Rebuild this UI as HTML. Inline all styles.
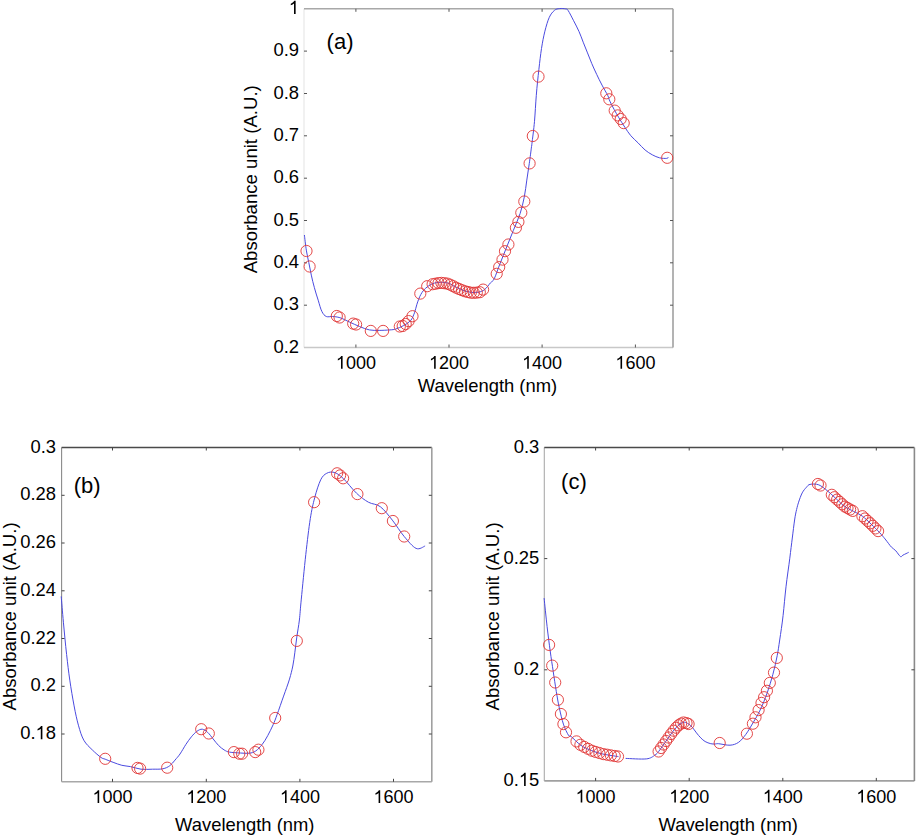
<!DOCTYPE html>
<html><head><meta charset="utf-8"><style>
html,body{margin:0;padding:0;background:#fff;}
svg{display:block;}
text{font-family:"Liberation Sans", sans-serif;font-size:18.4px;fill:#000;stroke:none;}
.yl{font-size:18.6px;}
.tl{font-size:18px;}
.ytl{font-size:18.4px;}
.pl{font-size:22px;}
</style></head><body>
<svg width="917" height="838" viewBox="0 0 917 838">
<rect width="917" height="838" fill="#fff"/>
<line x1="304" y1="8.8" x2="304" y2="347.5" stroke="#e6e6e6" stroke-width="1.1"/>
<line x1="304" y1="347.5" x2="673" y2="347.5" stroke="#c8c8c8" stroke-width="1.6"/>
<line x1="304" y1="8.8" x2="673" y2="8.8" stroke="#a8a8a8" stroke-width="1.6"/>
<line x1="673" y1="8.8" x2="673" y2="347.5" stroke="#a0a0a0" stroke-width="1.6"/>
<line x1="355.9" y1="347.5" x2="355.9" y2="344.5" stroke="#555" stroke-width="1"/>
<line x1="355.9" y1="8.8" x2="355.9" y2="11.8" stroke="#555" stroke-width="1"/>
<path d="M0.373,0 L0.373,-0.716 L0.298,-0.716 C0.272,-0.655 0.215,-0.598 0.109,-0.552 L0.109,-0.468 C0.185,-0.496 0.245,-0.530 0.285,-0.566 L0.285,0 Z" transform="translate(335.88,368.80) scale(18)" fill="#000"/><text class="tl" x="345.89" y="368.80">000</text>
<line x1="449.0" y1="347.5" x2="449.0" y2="344.5" stroke="#555" stroke-width="1"/>
<line x1="449.0" y1="8.8" x2="449.0" y2="11.8" stroke="#555" stroke-width="1"/>
<path d="M0.373,0 L0.373,-0.716 L0.298,-0.716 C0.272,-0.655 0.215,-0.598 0.109,-0.552 L0.109,-0.468 C0.185,-0.496 0.245,-0.530 0.285,-0.566 L0.285,0 Z" transform="translate(428.98,368.80) scale(18)" fill="#000"/><text class="tl" x="438.99" y="368.80">200</text>
<line x1="542.1" y1="347.5" x2="542.1" y2="344.5" stroke="#555" stroke-width="1"/>
<line x1="542.1" y1="8.8" x2="542.1" y2="11.8" stroke="#555" stroke-width="1"/>
<path d="M0.373,0 L0.373,-0.716 L0.298,-0.716 C0.272,-0.655 0.215,-0.598 0.109,-0.552 L0.109,-0.468 C0.185,-0.496 0.245,-0.530 0.285,-0.566 L0.285,0 Z" transform="translate(522.08,368.80) scale(18)" fill="#000"/><text class="tl" x="532.09" y="368.80">400</text>
<line x1="635.4" y1="347.5" x2="635.4" y2="344.5" stroke="#555" stroke-width="1"/>
<line x1="635.4" y1="8.8" x2="635.4" y2="11.8" stroke="#555" stroke-width="1"/>
<path d="M0.373,0 L0.373,-0.716 L0.298,-0.716 C0.272,-0.655 0.215,-0.598 0.109,-0.552 L0.109,-0.468 C0.185,-0.496 0.245,-0.530 0.285,-0.566 L0.285,0 Z" transform="translate(615.38,368.80) scale(18)" fill="#000"/><text class="tl" x="625.39" y="368.80">600</text>
<text class="ytl" x="299.00" y="352.60" text-anchor="end">0.2</text>
<line x1="304" y1="305.2" x2="307" y2="305.2" stroke="#555" stroke-width="1"/>
<line x1="673" y1="305.2" x2="670" y2="305.2" stroke="#555" stroke-width="1"/>
<text class="ytl" x="299.00" y="310.26" text-anchor="end">0.3</text>
<line x1="304" y1="262.8" x2="307" y2="262.8" stroke="#555" stroke-width="1"/>
<line x1="673" y1="262.8" x2="670" y2="262.8" stroke="#555" stroke-width="1"/>
<text class="ytl" x="299.00" y="267.93" text-anchor="end">0.4</text>
<line x1="304" y1="220.5" x2="307" y2="220.5" stroke="#555" stroke-width="1"/>
<line x1="673" y1="220.5" x2="670" y2="220.5" stroke="#555" stroke-width="1"/>
<text class="ytl" x="299.00" y="225.59" text-anchor="end">0.5</text>
<line x1="304" y1="178.2" x2="307" y2="178.2" stroke="#555" stroke-width="1"/>
<line x1="673" y1="178.2" x2="670" y2="178.2" stroke="#555" stroke-width="1"/>
<text class="ytl" x="299.00" y="183.25" text-anchor="end">0.6</text>
<line x1="304" y1="135.8" x2="307" y2="135.8" stroke="#555" stroke-width="1"/>
<line x1="673" y1="135.8" x2="670" y2="135.8" stroke="#555" stroke-width="1"/>
<text class="ytl" x="299.00" y="140.91" text-anchor="end">0.7</text>
<line x1="304" y1="93.5" x2="307" y2="93.5" stroke="#555" stroke-width="1"/>
<line x1="673" y1="93.5" x2="670" y2="93.5" stroke="#555" stroke-width="1"/>
<text class="ytl" x="299.00" y="98.58" text-anchor="end">0.8</text>
<line x1="304" y1="51.1" x2="307" y2="51.1" stroke="#555" stroke-width="1"/>
<line x1="673" y1="51.1" x2="670" y2="51.1" stroke="#555" stroke-width="1"/>
<text class="ytl" x="299.00" y="56.24" text-anchor="end">0.9</text>
<path d="M0.373,0 L0.373,-0.716 L0.298,-0.716 C0.272,-0.655 0.215,-0.598 0.109,-0.552 L0.109,-0.468 C0.185,-0.496 0.245,-0.530 0.285,-0.566 L0.285,0 Z" transform="translate(288.77,13.90) scale(18.4)" fill="#000"/>
<text x="417.8" y="392.3">Wavelength (nm)</text>
<text class="yl" transform="translate(256.7,179.3) rotate(-90)" text-anchor="middle">Absorbance unit (A.U.)</text>
<text class="pl" x="326.6" y="48.5">(a)</text>
<path d="M304.4,235.0 C304.7,237.5 305.6,245.5 306.3,250.1 C307.0,254.7 308.0,258.4 308.8,262.6 C309.6,266.8 310.4,270.9 311.3,275.1 C312.2,279.3 313.2,283.5 314.4,287.7 C315.5,291.9 316.9,296.2 318.2,300.2 C319.4,304.2 320.5,308.8 321.9,311.5 C323.2,314.2 324.5,315.7 326.3,316.5 C328.1,317.3 330.3,316.3 332.6,316.5 C334.9,316.7 337.0,316.8 339.9,317.7 C342.8,318.6 346.4,320.6 349.7,322.1 C353.0,323.6 356.2,325.2 359.5,326.5 C362.8,327.8 366.0,329.2 369.3,329.9 C372.6,330.5 375.8,330.4 379.2,330.4 C382.6,330.4 387.2,330.1 390.0,329.9 C392.8,329.7 393.5,329.7 395.8,329.0 C398.1,328.3 401.2,326.9 403.7,325.5 C406.2,324.1 408.8,322.7 410.6,320.6 C412.4,318.5 413.4,315.5 414.5,312.8 C415.6,310.1 415.8,307.4 416.9,304.3 C417.9,301.2 419.3,297.2 420.8,294.5 C422.3,291.8 423.7,290.0 425.7,288.2 C427.7,286.4 430.2,284.7 432.6,283.7 C435.1,282.7 437.8,282.4 440.4,282.3 C443.0,282.2 445.7,282.4 448.3,283.2 C450.9,284.0 453.5,286.0 456.1,287.2 C458.7,288.4 461.4,289.7 464.0,290.6 C466.6,291.5 469.4,292.1 471.8,292.4 C474.2,292.6 476.6,292.6 478.7,292.1 C480.8,291.6 482.6,291.2 484.6,289.6 C486.6,288.1 488.9,284.6 490.5,282.8 C492.1,281.0 492.6,282.0 494.2,278.8 C495.8,275.6 497.9,269.0 500.0,263.7 C502.1,258.4 504.5,252.6 506.7,247.0 C508.9,241.4 511.2,235.9 513.4,230.3 C515.6,224.7 518.3,219.2 520.1,213.6 C521.9,208.0 523.2,202.5 524.3,196.9 C525.4,191.3 526.0,185.7 526.8,180.1 C527.6,174.5 528.5,169.0 529.3,163.4 C530.1,157.8 531.1,150.0 531.5,146.7 C531.9,143.4 531.4,148.0 531.9,143.8 C532.4,139.6 533.8,129.4 534.5,121.3 C535.2,113.2 535.6,104.0 536.3,95.3 C537.0,86.6 538.0,77.1 538.9,69.3 C539.8,61.5 540.5,54.9 541.5,48.5 C542.5,42.1 543.6,36.4 544.9,31.2 C546.2,26.0 547.7,20.8 549.3,17.3 C550.9,13.8 552.7,11.9 554.4,10.4 C556.1,8.9 557.7,8.8 559.6,8.6 C561.5,8.3 564.3,8.6 565.7,8.9 C567.1,9.2 566.9,8.6 568.2,10.6 C569.5,12.6 571.8,17.2 573.6,20.7 C575.4,24.2 577.4,27.9 579.0,31.5 C580.6,35.1 581.8,38.6 583.2,42.2 C584.6,45.8 586.1,49.3 587.5,52.9 C588.9,56.5 590.3,60.0 591.8,63.6 C593.3,67.2 595.0,70.8 596.7,74.4 C598.4,78.0 600.1,81.5 602.0,85.1 C603.9,88.7 606.7,93.3 607.9,95.8 C609.1,98.3 608.3,97.6 609.3,99.9 C610.3,102.2 612.5,106.4 614.1,109.4 C615.7,112.4 617.1,114.8 618.9,117.8 C620.7,120.8 622.9,124.3 624.9,127.3 C626.9,130.3 628.6,133.1 630.8,135.7 C633.0,138.3 635.6,140.4 638.0,142.8 C640.4,145.2 642.7,148.0 645.1,150.0 C647.5,152.0 649.9,153.5 652.3,154.8 C654.7,156.1 657.1,157.2 659.5,157.8 C661.9,158.4 665.1,158.5 666.6,158.4 C668.1,158.3 668.2,157.2 668.5,157.0" fill="none" stroke="#4a4ae0" stroke-width="1.0"/>
<circle cx="306.5" cy="251" r="5.6" fill="none" stroke="#e03434" stroke-width="0.9"/>
<circle cx="309.6" cy="266.5" r="5.6" fill="none" stroke="#e03434" stroke-width="0.9"/>
<circle cx="353.2" cy="323.6" r="5.6" fill="none" stroke="#e03434" stroke-width="0.9"/>
<circle cx="356.1" cy="324.5" r="5.6" fill="none" stroke="#e03434" stroke-width="0.9"/>
<circle cx="370.8" cy="330.9" r="5.6" fill="none" stroke="#e03434" stroke-width="0.9"/>
<circle cx="383.1" cy="330.9" r="5.6" fill="none" stroke="#e03434" stroke-width="0.9"/>
<circle cx="399.8" cy="326.5" r="5.6" fill="none" stroke="#e03434" stroke-width="0.9"/>
<circle cx="402.7" cy="326" r="5.6" fill="none" stroke="#e03434" stroke-width="0.9"/>
<circle cx="405.7" cy="324" r="5.6" fill="none" stroke="#e03434" stroke-width="0.9"/>
<circle cx="408.6" cy="321.1" r="5.6" fill="none" stroke="#e03434" stroke-width="0.9"/>
<circle cx="412.5" cy="316.2" r="5.6" fill="none" stroke="#e03434" stroke-width="0.9"/>
<circle cx="336.8" cy="316" r="5.6" fill="none" stroke="#e03434" stroke-width="0.9"/>
<circle cx="339.6" cy="317.5" r="5.6" fill="none" stroke="#e03434" stroke-width="0.9"/>
<circle cx="420.3" cy="293.6" r="5.6" fill="none" stroke="#e03434" stroke-width="0.9"/>
<circle cx="427.2" cy="286.2" r="5.6" fill="none" stroke="#e03434" stroke-width="0.9"/>
<circle cx="432.6" cy="284.2" r="5.6" fill="none" stroke="#e03434" stroke-width="0.9"/>
<circle cx="435.5" cy="283.7" r="5.6" fill="none" stroke="#e03434" stroke-width="0.9"/>
<circle cx="438.5" cy="283.1" r="5.6" fill="none" stroke="#e03434" stroke-width="0.9"/>
<circle cx="441.4" cy="282.9" r="5.6" fill="none" stroke="#e03434" stroke-width="0.9"/>
<circle cx="444.3" cy="283.2" r="5.6" fill="none" stroke="#e03434" stroke-width="0.9"/>
<circle cx="447.3" cy="283.6" r="5.6" fill="none" stroke="#e03434" stroke-width="0.9"/>
<circle cx="450.2" cy="284.7" r="5.6" fill="none" stroke="#e03434" stroke-width="0.9"/>
<circle cx="453.2" cy="286.2" r="5.6" fill="none" stroke="#e03434" stroke-width="0.9"/>
<circle cx="456.1" cy="287.7" r="5.6" fill="none" stroke="#e03434" stroke-width="0.9"/>
<circle cx="459.1" cy="289.0" r="5.6" fill="none" stroke="#e03434" stroke-width="0.9"/>
<circle cx="462.0" cy="290.2" r="5.6" fill="none" stroke="#e03434" stroke-width="0.9"/>
<circle cx="465.0" cy="291.3" r="5.6" fill="none" stroke="#e03434" stroke-width="0.9"/>
<circle cx="467.9" cy="292.0" r="5.6" fill="none" stroke="#e03434" stroke-width="0.9"/>
<circle cx="470.8" cy="292.7" r="5.6" fill="none" stroke="#e03434" stroke-width="0.9"/>
<circle cx="473.8" cy="292.8" r="5.6" fill="none" stroke="#e03434" stroke-width="0.9"/>
<circle cx="483.1" cy="289.6" r="5.6" fill="none" stroke="#e03434" stroke-width="0.9"/>
<circle cx="496.7" cy="273.8" r="5.6" fill="none" stroke="#e03434" stroke-width="0.9"/>
<circle cx="499.2" cy="267.1" r="5.6" fill="none" stroke="#e03434" stroke-width="0.9"/>
<circle cx="502.5" cy="259.6" r="5.6" fill="none" stroke="#e03434" stroke-width="0.9"/>
<circle cx="505" cy="251.2" r="5.6" fill="none" stroke="#e03434" stroke-width="0.9"/>
<circle cx="508.4" cy="244.5" r="5.6" fill="none" stroke="#e03434" stroke-width="0.9"/>
<circle cx="515.9" cy="227.8" r="5.6" fill="none" stroke="#e03434" stroke-width="0.9"/>
<circle cx="518.4" cy="221.9" r="5.6" fill="none" stroke="#e03434" stroke-width="0.9"/>
<circle cx="521.3" cy="212.7" r="5.6" fill="none" stroke="#e03434" stroke-width="0.9"/>
<circle cx="524.3" cy="201.5" r="5.6" fill="none" stroke="#e03434" stroke-width="0.9"/>
<circle cx="529.6" cy="163.4" r="5.6" fill="none" stroke="#e03434" stroke-width="0.9"/>
<circle cx="538.5" cy="76.6" r="5.6" fill="none" stroke="#e03434" stroke-width="0.9"/>
<circle cx="532.8" cy="136" r="5.6" fill="none" stroke="#e03434" stroke-width="0.9"/>
<circle cx="606.3" cy="93.3" r="5.6" fill="none" stroke="#e03434" stroke-width="0.9"/>
<circle cx="609.3" cy="99.3" r="5.6" fill="none" stroke="#e03434" stroke-width="0.9"/>
<circle cx="614.7" cy="110.6" r="5.6" fill="none" stroke="#e03434" stroke-width="0.9"/>
<circle cx="617.7" cy="115.4" r="5.6" fill="none" stroke="#e03434" stroke-width="0.9"/>
<circle cx="620.7" cy="119" r="5.6" fill="none" stroke="#e03434" stroke-width="0.9"/>
<circle cx="623.7" cy="123.1" r="5.6" fill="none" stroke="#e03434" stroke-width="0.9"/>
<circle cx="667.2" cy="157.8" r="5.6" fill="none" stroke="#e03434" stroke-width="0.9"/>
<circle cx="476.8" cy="292.6" r="5.6" fill="none" stroke="#e03434" stroke-width="0.9"/>
<circle cx="479.8" cy="292.2" r="5.6" fill="none" stroke="#e03434" stroke-width="0.9"/>
<line x1="61.6" y1="447.5" x2="61.6" y2="781.8" stroke="#8a8a8a" stroke-width="1.1"/>
<line x1="61.6" y1="781.8" x2="431.8" y2="781.8" stroke="#a8a8a8" stroke-width="1.6"/>
<line x1="61.6" y1="447.5" x2="431.8" y2="447.5" stroke="#4a4a4a" stroke-width="1.6"/>
<line x1="431.8" y1="447.5" x2="431.8" y2="781.8" stroke="#a0a0a0" stroke-width="1.6"/>
<line x1="112.5" y1="781.8" x2="112.5" y2="778.8" stroke="#444" stroke-width="1"/>
<line x1="112.5" y1="447.5" x2="112.5" y2="450.5" stroke="#444" stroke-width="1"/>
<path d="M0.373,0 L0.373,-0.716 L0.298,-0.716 C0.272,-0.655 0.215,-0.598 0.109,-0.552 L0.109,-0.468 C0.185,-0.496 0.245,-0.530 0.285,-0.566 L0.285,0 Z" transform="translate(92.48,803.10) scale(18)" fill="#000"/><text class="tl" x="102.49" y="803.10">000</text>
<line x1="206.3" y1="781.8" x2="206.3" y2="778.8" stroke="#444" stroke-width="1"/>
<line x1="206.3" y1="447.5" x2="206.3" y2="450.5" stroke="#444" stroke-width="1"/>
<path d="M0.373,0 L0.373,-0.716 L0.298,-0.716 C0.272,-0.655 0.215,-0.598 0.109,-0.552 L0.109,-0.468 C0.185,-0.496 0.245,-0.530 0.285,-0.566 L0.285,0 Z" transform="translate(186.28,803.10) scale(18)" fill="#000"/><text class="tl" x="196.29" y="803.10">200</text>
<line x1="299.9" y1="781.8" x2="299.9" y2="778.8" stroke="#444" stroke-width="1"/>
<line x1="299.9" y1="447.5" x2="299.9" y2="450.5" stroke="#444" stroke-width="1"/>
<path d="M0.373,0 L0.373,-0.716 L0.298,-0.716 C0.272,-0.655 0.215,-0.598 0.109,-0.552 L0.109,-0.468 C0.185,-0.496 0.245,-0.530 0.285,-0.566 L0.285,0 Z" transform="translate(279.88,803.10) scale(18)" fill="#000"/><text class="tl" x="289.89" y="803.10">400</text>
<line x1="393.5" y1="781.8" x2="393.5" y2="778.8" stroke="#444" stroke-width="1"/>
<line x1="393.5" y1="447.5" x2="393.5" y2="450.5" stroke="#444" stroke-width="1"/>
<path d="M0.373,0 L0.373,-0.716 L0.298,-0.716 C0.272,-0.655 0.215,-0.598 0.109,-0.552 L0.109,-0.468 C0.185,-0.496 0.245,-0.530 0.285,-0.566 L0.285,0 Z" transform="translate(373.48,803.10) scale(18)" fill="#000"/><text class="tl" x="383.49" y="803.10">600</text>
<line x1="61.6" y1="734.0" x2="64.6" y2="734.0" stroke="#444" stroke-width="1"/>
<line x1="431.8" y1="734.0" x2="428.8" y2="734.0" stroke="#444" stroke-width="1"/>
<text class="ytl" x="20.18" y="739.14">0.</text><path d="M0.373,0 L0.373,-0.716 L0.298,-0.716 C0.272,-0.655 0.215,-0.598 0.109,-0.552 L0.109,-0.468 C0.185,-0.496 0.245,-0.530 0.285,-0.566 L0.285,0 Z" transform="translate(35.53,739.14) scale(18.4)" fill="#000"/><text class="ytl" x="45.77" y="739.14">8</text>
<line x1="61.6" y1="686.3" x2="64.6" y2="686.3" stroke="#444" stroke-width="1"/>
<line x1="431.8" y1="686.3" x2="428.8" y2="686.3" stroke="#444" stroke-width="1"/>
<text class="ytl" x="56.00" y="691.39" text-anchor="end">0.2</text>
<line x1="61.6" y1="638.5" x2="64.6" y2="638.5" stroke="#444" stroke-width="1"/>
<line x1="431.8" y1="638.5" x2="428.8" y2="638.5" stroke="#444" stroke-width="1"/>
<text class="ytl" x="56.00" y="643.63" text-anchor="end">0.22</text>
<line x1="61.6" y1="590.8" x2="64.6" y2="590.8" stroke="#444" stroke-width="1"/>
<line x1="431.8" y1="590.8" x2="428.8" y2="590.8" stroke="#444" stroke-width="1"/>
<text class="ytl" x="56.00" y="595.87" text-anchor="end">0.24</text>
<line x1="61.6" y1="543.0" x2="64.6" y2="543.0" stroke="#444" stroke-width="1"/>
<line x1="431.8" y1="543.0" x2="428.8" y2="543.0" stroke="#444" stroke-width="1"/>
<text class="ytl" x="56.00" y="548.11" text-anchor="end">0.26</text>
<line x1="61.6" y1="495.3" x2="64.6" y2="495.3" stroke="#444" stroke-width="1"/>
<line x1="431.8" y1="495.3" x2="428.8" y2="495.3" stroke="#444" stroke-width="1"/>
<text class="ytl" x="56.00" y="500.36" text-anchor="end">0.28</text>
<text class="ytl" x="56.00" y="452.60" text-anchor="end">0.3</text>
<text x="175.1" y="830.6">Wavelength (nm)</text>
<text class="yl" transform="translate(16,616.4) rotate(-90)" text-anchor="middle">Absorbance unit (A.U.)</text>
<text class="pl" x="73.7" y="492.5">(b)</text>
<path d="M61.2,596.4 C61.6,600.7 62.5,612.5 63.4,622.2 C64.3,631.9 65.5,644.8 66.6,654.4 C67.7,664.0 68.5,671.5 69.8,680.1 C71.0,688.7 72.7,698.4 74.1,705.9 C75.5,713.4 76.8,719.5 78.4,725.2 C80.0,730.9 81.5,736.1 83.8,740.2 C86.1,744.3 89.4,747.0 92.3,749.9 C95.2,752.8 98.8,755.8 100.9,757.4 C103.1,759.0 103.2,758.4 105.2,759.2 C107.2,760.0 110.3,761.3 113.1,762.3 C115.9,763.3 118.9,764.6 121.8,765.3 C124.7,766.0 127.3,766.0 130.5,766.6 C133.7,767.2 137.3,768.8 141.0,769.2 C144.7,769.6 148.8,769.3 152.4,769.2 C156.0,769.1 159.9,769.4 162.8,768.8 C165.7,768.2 167.8,767.2 169.8,765.7 C171.8,764.2 173.3,762.1 175.0,760.1 C176.7,758.1 178.2,756.6 180.0,754.0 C181.8,751.4 184.0,747.3 185.9,744.4 C187.8,741.5 189.6,739.0 191.4,736.8 C193.2,734.6 195.0,732.7 196.8,731.4 C198.6,730.1 200.5,729.0 202.3,729.2 C204.1,729.4 205.9,730.8 207.7,732.4 C209.5,734.0 211.4,736.8 213.2,739.0 C215.0,741.2 216.8,743.7 218.6,745.5 C220.4,747.3 222.3,748.8 224.1,749.9 C225.9,751.0 226.8,751.6 229.5,752.1 C232.2,752.6 237.1,752.8 240.4,753.0 C243.7,753.2 246.6,753.5 249.2,753.2 C251.8,752.9 253.5,752.5 255.7,751.0 C257.9,749.5 260.2,746.9 262.2,744.4 C264.2,741.9 265.9,739.0 267.7,735.7 C269.5,732.4 271.5,728.3 273.1,724.8 C274.7,721.3 275.4,719.3 277.1,714.5 C278.9,709.7 281.5,702.0 283.6,696.1 C285.7,690.2 288.0,684.1 289.5,679.1 C291.0,674.1 291.9,670.4 292.8,666.0 C293.7,661.6 294.1,657.6 294.8,652.8 C295.5,648.0 296.0,642.6 296.8,637.1 C297.6,631.6 298.6,626.3 299.4,620.0 C300.1,613.7 300.2,610.0 301.3,599.1 C302.4,588.2 304.3,567.8 305.8,554.4 C307.3,541.0 308.8,528.1 310.3,518.6 C311.8,509.2 313.0,504.2 314.7,497.7 C316.4,491.2 318.7,483.9 320.7,479.8 C322.7,475.7 324.5,474.5 326.7,473.3 C328.9,472.1 331.4,471.6 334.1,472.4 C336.8,473.2 339.4,474.8 343.1,478.3 C346.8,481.8 352.3,489.2 356.5,493.2 C360.7,497.2 364.4,499.9 368.4,502.2 C372.4,504.4 376.3,503.7 380.3,506.7 C384.3,509.7 388.3,515.1 392.3,520.1 C396.3,525.1 400.2,531.8 404.2,536.5 C408.2,541.2 412.6,546.8 416.1,548.4 C419.6,550.0 423.6,546.4 425.1,546.0" fill="none" stroke="#4a4ae0" stroke-width="1.0"/>
<circle cx="275.2" cy="718" r="5.6" fill="none" stroke="#e03434" stroke-width="0.9"/>
<circle cx="296.8" cy="640.9" r="5.6" fill="none" stroke="#e03434" stroke-width="0.9"/>
<circle cx="314.1" cy="502.2" r="5.6" fill="none" stroke="#e03434" stroke-width="0.9"/>
<circle cx="337.1" cy="473.3" r="5.6" fill="none" stroke="#e03434" stroke-width="0.9"/>
<circle cx="340.1" cy="475.4" r="5.6" fill="none" stroke="#e03434" stroke-width="0.9"/>
<circle cx="343.1" cy="478.3" r="5.6" fill="none" stroke="#e03434" stroke-width="0.9"/>
<circle cx="357.4" cy="494.1" r="5.6" fill="none" stroke="#e03434" stroke-width="0.9"/>
<circle cx="381.8" cy="508.2" r="5.6" fill="none" stroke="#e03434" stroke-width="0.9"/>
<circle cx="392.9" cy="521" r="5.6" fill="none" stroke="#e03434" stroke-width="0.9"/>
<circle cx="404.2" cy="536.5" r="5.6" fill="none" stroke="#e03434" stroke-width="0.9"/>
<circle cx="105.2" cy="758.8" r="5.6" fill="none" stroke="#e03434" stroke-width="0.9"/>
<circle cx="137.5" cy="767.9" r="5.6" fill="none" stroke="#e03434" stroke-width="0.9"/>
<circle cx="140.1" cy="768.6" r="5.6" fill="none" stroke="#e03434" stroke-width="0.9"/>
<circle cx="167.2" cy="767.7" r="5.6" fill="none" stroke="#e03434" stroke-width="0.9"/>
<circle cx="201.2" cy="729.2" r="5.6" fill="none" stroke="#e03434" stroke-width="0.9"/>
<circle cx="208.8" cy="733.5" r="5.6" fill="none" stroke="#e03434" stroke-width="0.9"/>
<circle cx="233.9" cy="752.1" r="5.6" fill="none" stroke="#e03434" stroke-width="0.9"/>
<circle cx="239.3" cy="753.7" r="5.6" fill="none" stroke="#e03434" stroke-width="0.9"/>
<circle cx="242.1" cy="753.7" r="5.6" fill="none" stroke="#e03434" stroke-width="0.9"/>
<circle cx="255.2" cy="752.1" r="5.6" fill="none" stroke="#e03434" stroke-width="0.9"/>
<circle cx="258.4" cy="749.7" r="5.6" fill="none" stroke="#e03434" stroke-width="0.9"/>
<line x1="544.3" y1="447.5" x2="544.3" y2="780.9" stroke="#aaaaaa" stroke-width="1.1"/>
<line x1="544.3" y1="780.9" x2="914.4" y2="780.9" stroke="#a0a0a0" stroke-width="1.6"/>
<line x1="544.3" y1="447.5" x2="914.4" y2="447.5" stroke="#4a4a4a" stroke-width="1.6"/>
<line x1="914.4" y1="447.5" x2="914.4" y2="780.9" stroke="#8a8a8a" stroke-width="1.6"/>
<line x1="595.6" y1="780.9" x2="595.6" y2="777.9" stroke="#444" stroke-width="1"/>
<line x1="595.6" y1="447.5" x2="595.6" y2="450.5" stroke="#444" stroke-width="1"/>
<path d="M0.373,0 L0.373,-0.716 L0.298,-0.716 C0.272,-0.655 0.215,-0.598 0.109,-0.552 L0.109,-0.468 C0.185,-0.496 0.245,-0.530 0.285,-0.566 L0.285,0 Z" transform="translate(575.58,802.60) scale(18)" fill="#000"/><text class="tl" x="585.59" y="802.60">000</text>
<line x1="689.2" y1="780.9" x2="689.2" y2="777.9" stroke="#444" stroke-width="1"/>
<line x1="689.2" y1="447.5" x2="689.2" y2="450.5" stroke="#444" stroke-width="1"/>
<path d="M0.373,0 L0.373,-0.716 L0.298,-0.716 C0.272,-0.655 0.215,-0.598 0.109,-0.552 L0.109,-0.468 C0.185,-0.496 0.245,-0.530 0.285,-0.566 L0.285,0 Z" transform="translate(669.18,802.60) scale(18)" fill="#000"/><text class="tl" x="679.19" y="802.60">200</text>
<line x1="782.8" y1="780.9" x2="782.8" y2="777.9" stroke="#444" stroke-width="1"/>
<line x1="782.8" y1="447.5" x2="782.8" y2="450.5" stroke="#444" stroke-width="1"/>
<path d="M0.373,0 L0.373,-0.716 L0.298,-0.716 C0.272,-0.655 0.215,-0.598 0.109,-0.552 L0.109,-0.468 C0.185,-0.496 0.245,-0.530 0.285,-0.566 L0.285,0 Z" transform="translate(762.78,802.60) scale(18)" fill="#000"/><text class="tl" x="772.79" y="802.60">400</text>
<line x1="876.3" y1="780.9" x2="876.3" y2="777.9" stroke="#444" stroke-width="1"/>
<line x1="876.3" y1="447.5" x2="876.3" y2="450.5" stroke="#444" stroke-width="1"/>
<path d="M0.373,0 L0.373,-0.716 L0.298,-0.716 C0.272,-0.655 0.215,-0.598 0.109,-0.552 L0.109,-0.468 C0.185,-0.496 0.245,-0.530 0.285,-0.566 L0.285,0 Z" transform="translate(856.28,802.60) scale(18)" fill="#000"/><text class="tl" x="866.29" y="802.60">600</text>
<text class="ytl" x="503.48" y="786.00">0.</text><path d="M0.373,0 L0.373,-0.716 L0.298,-0.716 C0.272,-0.655 0.215,-0.598 0.109,-0.552 L0.109,-0.468 C0.185,-0.496 0.245,-0.530 0.285,-0.566 L0.285,0 Z" transform="translate(518.83,786.00) scale(18.4)" fill="#000"/><text class="ytl" x="529.07" y="786.00">5</text>
<line x1="544.3" y1="669.8" x2="547.3" y2="669.8" stroke="#444" stroke-width="1"/>
<line x1="914.4" y1="669.8" x2="911.4" y2="669.8" stroke="#444" stroke-width="1"/>
<text class="ytl" x="539.30" y="674.87" text-anchor="end">0.2</text>
<line x1="544.3" y1="558.6" x2="547.3" y2="558.6" stroke="#444" stroke-width="1"/>
<line x1="914.4" y1="558.6" x2="911.4" y2="558.6" stroke="#444" stroke-width="1"/>
<text class="ytl" x="539.30" y="563.73" text-anchor="end">0.25</text>
<text class="ytl" x="539.30" y="452.60" text-anchor="end">0.3</text>
<text x="658.5" y="830.6">Wavelength (nm)</text>
<text class="yl" transform="translate(499,616.4) rotate(-90)" text-anchor="middle">Absorbance unit (A.U.)</text>
<text class="pl" x="561.1" y="488.8">(c)</text>
<path d="M544.1,598.1 C544.6,602.9 546.1,617.8 547.1,626.6 C548.1,635.4 549.2,643.5 550.2,651.0 C551.2,658.5 552.2,664.5 553.2,671.3 C554.2,678.1 555.3,685.5 556.3,691.6 C557.3,697.7 558.1,702.5 559.3,707.9 C560.5,713.3 561.9,719.5 563.4,724.1 C564.9,728.7 567.2,733.2 568.5,735.3 C569.8,737.4 569.0,734.8 571.1,736.5 C573.2,738.2 577.5,742.9 580.9,745.3 C584.3,747.7 588.2,749.2 591.8,750.7 C595.4,752.2 598.7,753.1 602.7,754.0 C606.7,754.9 613.2,755.8 615.8,756.2 C618.4,756.6 618.0,756.5 618.5,756.6 M625.6,758.4 C629.0,758.5 641.4,759.4 646.3,758.9 C651.2,758.4 653.0,756.3 655.0,755.1 C657.0,753.9 657.4,752.9 658.6,751.5 C659.8,750.1 661.0,748.2 662.2,746.5 C663.4,744.8 664.5,743.2 665.7,741.5 C666.9,739.8 668.1,738.2 669.3,736.5 C670.5,734.8 671.7,733.0 672.9,731.5 C674.1,730.0 675.3,728.5 676.5,727.2 C677.7,726.0 678.8,724.8 680.1,724.0 C681.4,723.2 682.9,722.2 684.3,722.2 C685.7,722.2 687.3,723.2 688.6,724.0 C689.9,724.8 690.9,725.7 692.2,727.2 C693.5,728.7 695.1,731.1 696.5,732.9 C697.9,734.7 699.4,736.5 700.8,737.9 C702.2,739.3 703.4,740.5 705.1,741.5 C706.8,742.5 709.1,743.3 710.8,743.7 C712.4,744.1 713.7,744.0 715.0,744.0 C716.3,744.0 716.1,743.5 718.6,743.7 C721.1,743.9 726.7,745.4 730.0,745.2 C733.3,745.0 736.0,744.1 738.6,742.3 C741.2,740.5 743.4,737.6 745.8,734.4 C748.2,731.2 750.5,727.0 752.9,723.0 C755.3,719.0 757.7,715.1 760.1,710.1 C762.5,705.1 765.1,698.9 767.2,692.9 C769.3,686.9 771.2,680.5 772.9,674.3 C774.6,668.1 776.1,661.4 777.2,655.7 C778.3,650.0 778.7,646.7 779.7,640.0 C780.7,633.3 782.1,624.3 783.1,615.4 C784.1,606.5 784.9,596.3 786.0,586.8 C787.1,577.3 788.8,566.3 789.8,558.2 C790.8,550.1 791.5,544.4 792.3,538.0 C793.1,531.6 793.9,524.8 794.6,520.0 C795.3,515.2 795.9,512.5 796.6,509.5 C797.3,506.5 797.7,505.0 798.6,502.2 C799.5,499.4 800.9,495.4 802.2,492.9 C803.5,490.4 805.2,488.6 806.5,487.2 C807.8,485.8 808.0,484.8 810.0,484.4 C812.0,484.0 815.8,483.7 818.7,484.8 C821.6,485.9 824.6,488.6 827.5,490.9 C830.4,493.2 833.3,496.2 836.2,498.8 C839.1,501.4 842.0,504.5 844.9,506.6 C847.8,508.7 850.7,509.8 853.6,511.4 C856.5,513.0 859.5,514.1 862.4,516.2 C865.3,518.3 868.2,521.3 871.1,524.1 C874.0,526.9 877.5,530.3 879.8,532.8 C882.1,535.3 883.5,537.1 885.0,538.9 C886.5,540.7 887.6,542.3 888.7,543.7 C889.8,545.1 890.3,546.0 891.5,547.2 C892.7,548.4 894.3,549.2 895.8,550.8 C897.3,552.4 899.3,555.9 900.5,556.6 C901.7,557.3 901.6,555.8 903.0,555.1 C904.4,554.4 907.8,552.8 908.7,552.3" fill="none" stroke="#4a4ae0" stroke-width="1.0"/>
<circle cx="549.1" cy="644.9" r="5.6" fill="none" stroke="#e03434" stroke-width="0.9"/>
<circle cx="552.2" cy="665.6" r="5.6" fill="none" stroke="#e03434" stroke-width="0.9"/>
<circle cx="555.2" cy="682.5" r="5.6" fill="none" stroke="#e03434" stroke-width="0.9"/>
<circle cx="557.9" cy="699.8" r="5.6" fill="none" stroke="#e03434" stroke-width="0.9"/>
<circle cx="560.9" cy="714" r="5.6" fill="none" stroke="#e03434" stroke-width="0.9"/>
<circle cx="563.4" cy="724.1" r="5.6" fill="none" stroke="#e03434" stroke-width="0.9"/>
<circle cx="566" cy="732.3" r="5.6" fill="none" stroke="#e03434" stroke-width="0.9"/>
<circle cx="576.5" cy="741.4" r="5.6" fill="none" stroke="#e03434" stroke-width="0.9"/>
<circle cx="580.4" cy="744.8" r="5.6" fill="none" stroke="#e03434" stroke-width="0.9"/>
<circle cx="584.2" cy="746.9" r="5.6" fill="none" stroke="#e03434" stroke-width="0.9"/>
<circle cx="588.0" cy="748.8" r="5.6" fill="none" stroke="#e03434" stroke-width="0.9"/>
<circle cx="591.8" cy="750.7" r="5.6" fill="none" stroke="#e03434" stroke-width="0.9"/>
<circle cx="595.6" cy="751.9" r="5.6" fill="none" stroke="#e03434" stroke-width="0.9"/>
<circle cx="599.4" cy="753.0" r="5.6" fill="none" stroke="#e03434" stroke-width="0.9"/>
<circle cx="603.3" cy="754.1" r="5.6" fill="none" stroke="#e03434" stroke-width="0.9"/>
<circle cx="607.1" cy="754.7" r="5.6" fill="none" stroke="#e03434" stroke-width="0.9"/>
<circle cx="610.9" cy="755.4" r="5.6" fill="none" stroke="#e03434" stroke-width="0.9"/>
<circle cx="614.7" cy="756.0" r="5.6" fill="none" stroke="#e03434" stroke-width="0.9"/>
<circle cx="618.0" cy="756.5" r="5.6" fill="none" stroke="#e03434" stroke-width="0.9"/>
<circle cx="658.6" cy="751.5" r="5.6" fill="none" stroke="#e03434" stroke-width="0.9"/>
<circle cx="661.1" cy="748.0" r="5.6" fill="none" stroke="#e03434" stroke-width="0.9"/>
<circle cx="663.6" cy="744.5" r="5.6" fill="none" stroke="#e03434" stroke-width="0.9"/>
<circle cx="666.1" cy="741.0" r="5.6" fill="none" stroke="#e03434" stroke-width="0.9"/>
<circle cx="668.6" cy="737.5" r="5.6" fill="none" stroke="#e03434" stroke-width="0.9"/>
<circle cx="671.1" cy="734.0" r="5.6" fill="none" stroke="#e03434" stroke-width="0.9"/>
<circle cx="673.6" cy="730.7" r="5.6" fill="none" stroke="#e03434" stroke-width="0.9"/>
<circle cx="676.1" cy="727.7" r="5.6" fill="none" stroke="#e03434" stroke-width="0.9"/>
<circle cx="678.6" cy="725.3" r="5.6" fill="none" stroke="#e03434" stroke-width="0.9"/>
<circle cx="681.1" cy="723.6" r="5.6" fill="none" stroke="#e03434" stroke-width="0.9"/>
<circle cx="683.6" cy="722.5" r="5.6" fill="none" stroke="#e03434" stroke-width="0.9"/>
<circle cx="686.5" cy="723.1" r="5.6" fill="none" stroke="#e03434" stroke-width="0.9"/>
<circle cx="688.6" cy="724.0" r="5.6" fill="none" stroke="#e03434" stroke-width="0.9"/>
<circle cx="719.7" cy="743" r="5.6" fill="none" stroke="#e03434" stroke-width="0.9"/>
<circle cx="746.9" cy="733.7" r="5.6" fill="none" stroke="#e03434" stroke-width="0.9"/>
<circle cx="752.9" cy="723.7" r="5.6" fill="none" stroke="#e03434" stroke-width="0.9"/>
<circle cx="755.5" cy="717.3" r="5.6" fill="none" stroke="#e03434" stroke-width="0.9"/>
<circle cx="758.6" cy="710.1" r="5.6" fill="none" stroke="#e03434" stroke-width="0.9"/>
<circle cx="761.5" cy="702.9" r="5.6" fill="none" stroke="#e03434" stroke-width="0.9"/>
<circle cx="764.1" cy="697.2" r="5.6" fill="none" stroke="#e03434" stroke-width="0.9"/>
<circle cx="766.9" cy="690.8" r="5.6" fill="none" stroke="#e03434" stroke-width="0.9"/>
<circle cx="769.8" cy="682.9" r="5.6" fill="none" stroke="#e03434" stroke-width="0.9"/>
<circle cx="774" cy="672.6" r="5.6" fill="none" stroke="#e03434" stroke-width="0.9"/>
<circle cx="776.8" cy="657.9" r="5.6" fill="none" stroke="#e03434" stroke-width="0.9"/>
<circle cx="817.9" cy="484" r="5.6" fill="none" stroke="#e03434" stroke-width="0.9"/>
<circle cx="820.5" cy="485.5" r="5.6" fill="none" stroke="#e03434" stroke-width="0.9"/>
<circle cx="831.8" cy="494.8" r="5.6" fill="none" stroke="#e03434" stroke-width="0.9"/>
<circle cx="834.4" cy="497.2" r="5.6" fill="none" stroke="#e03434" stroke-width="0.9"/>
<circle cx="837.1" cy="499.6" r="5.6" fill="none" stroke="#e03434" stroke-width="0.9"/>
<circle cx="839.7" cy="501.9" r="5.6" fill="none" stroke="#e03434" stroke-width="0.9"/>
<circle cx="842.3" cy="504.3" r="5.6" fill="none" stroke="#e03434" stroke-width="0.9"/>
<circle cx="844.9" cy="506.6" r="5.6" fill="none" stroke="#e03434" stroke-width="0.9"/>
<circle cx="847.5" cy="508.0" r="5.6" fill="none" stroke="#e03434" stroke-width="0.9"/>
<circle cx="850.1" cy="509.5" r="5.6" fill="none" stroke="#e03434" stroke-width="0.9"/>
<circle cx="852.8" cy="510.9" r="5.6" fill="none" stroke="#e03434" stroke-width="0.9"/>
<circle cx="862.4" cy="516.2" r="5.6" fill="none" stroke="#e03434" stroke-width="0.9"/>
<circle cx="865.0" cy="518.5" r="5.6" fill="none" stroke="#e03434" stroke-width="0.9"/>
<circle cx="867.6" cy="520.9" r="5.6" fill="none" stroke="#e03434" stroke-width="0.9"/>
<circle cx="870.2" cy="523.3" r="5.6" fill="none" stroke="#e03434" stroke-width="0.9"/>
<circle cx="872.8" cy="525.8" r="5.6" fill="none" stroke="#e03434" stroke-width="0.9"/>
<circle cx="875.4" cy="528.4" r="5.6" fill="none" stroke="#e03434" stroke-width="0.9"/>
<circle cx="878.1" cy="531.1" r="5.6" fill="none" stroke="#e03434" stroke-width="0.9"/>
</svg></body></html>
